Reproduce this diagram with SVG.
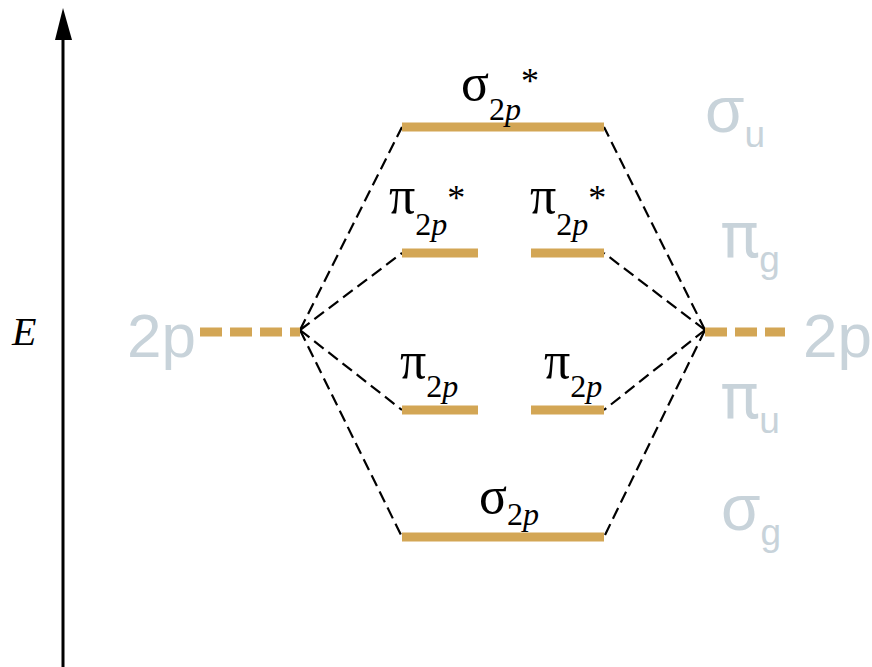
<svg xmlns="http://www.w3.org/2000/svg" width="872" height="667" viewBox="0 0 872 667">
<style>
.lvl{stroke:#D3A655;stroke-width:9;fill:none}
.dash2p{stroke:#D3A655;stroke-width:9;fill:none;stroke-dasharray:22 8}
.con{stroke:#000;stroke-width:2.2;fill:none;stroke-dasharray:12 6}
.mo{font-family:"Liberation Serif",serif;fill:#000;font-size:52px}
.sub{font-size:32px}
.ast{font-size:36px}
.gray{font-family:"Liberation Sans",Arial,sans-serif;fill:#C8D3DA}
.gbig{font-size:64px}
.gpi{font-family:Roboto,"Liberation Sans",sans-serif}
.gsub{font-size:37px;font-family:"Liberation Sans",Arial,sans-serif}
</style>
<rect width="872" height="667" fill="#fff"/>
<g id="axis">
<line x1="63" y1="667" x2="63" y2="36" stroke="#000" stroke-width="3"/>
<polygon points="63,8 55,40 72,40" fill="#000"/>
<text x="12" y="345" font-family="Liberation Serif,serif" font-style="italic" font-size="40">E</text>
</g>
<g id="connectors">
<line class="con" x1="300" y1="330" x2="402" y2="127"/>
<line class="con" x1="300" y1="330" x2="402" y2="253"/>
<line class="con" x1="300" y1="330" x2="402" y2="410"/>
<line class="con" x1="300" y1="330" x2="402" y2="537"/>
<line class="con" x1="705" y1="330" x2="604" y2="127"/>
<line class="con" x1="705" y1="330" x2="604" y2="253"/>
<line class="con" x1="705" y1="330" x2="604" y2="410"/>
<line class="con" x1="705" y1="330" x2="604" y2="537"/>
</g>
<g id="left2p">
<line class="dash2p" x1="200" y1="332" x2="300" y2="332"/>
<text class="gray" x="127" y="357" font-size="62">2p</text>
</g>
<g id="right2p">
<line class="dash2p" x1="705" y1="332" x2="785" y2="332"/>
<text class="gray" x="803" y="357" font-size="62">2p</text>
</g>
<g id="sigma2pstar">
<line class="lvl" x1="402" y1="127" x2="604" y2="127"/>
<text class="mo" x="461" y="100">σ<tspan class="sub" dy="20">2<tspan font-style="italic">p</tspan></tspan><tspan class="ast" dy="-27">*</tspan></text>
</g>
<g id="pi2pstar-left">
<line class="lvl" x1="402" y1="253" x2="478" y2="253"/>
<text class="mo" x="389" y="213">π<tspan class="sub" dy="22">2<tspan font-style="italic">p</tspan></tspan><tspan class="ast" dy="-25">*</tspan></text>
</g>
<g id="pi2pstar-right">
<line class="lvl" x1="531" y1="253" x2="604" y2="253"/>
<text class="mo" x="530" y="213">π<tspan class="sub" dy="22">2<tspan font-style="italic">p</tspan></tspan><tspan class="ast" dy="-25">*</tspan></text>
</g>
<g id="pi2p-left">
<line class="lvl" x1="402" y1="410" x2="478" y2="410"/>
<text class="mo" x="400" y="378">π<tspan class="sub" dy="19">2<tspan font-style="italic">p</tspan></tspan></text>
</g>
<g id="pi2p-right">
<line class="lvl" x1="531" y1="410" x2="604" y2="410"/>
<text class="mo" x="544" y="378">π<tspan class="sub" dy="19">2<tspan font-style="italic">p</tspan></tspan></text>
</g>
<g id="sigma2p">
<line class="lvl" x1="402" y1="537" x2="604" y2="537"/>
<text class="mo" x="479" y="513">σ<tspan class="sub" dy="12">2<tspan font-style="italic">p</tspan></tspan></text>
</g>
<g id="sym-labels">
<text class="gray gbig" x="705" y="132">σ<tspan class="gsub" dy="15">u</tspan></text>
<text class="gray gbig gpi" x="721" y="257">π<tspan class="gsub" dy="15">g</tspan></text>
<text class="gray gbig gpi" x="721" y="418">π<tspan class="gsub" dy="15">u</tspan></text>
<text class="gray gbig" x="721" y="530">σ<tspan class="gsub" dy="15">g</tspan></text>
</g>
</svg>
